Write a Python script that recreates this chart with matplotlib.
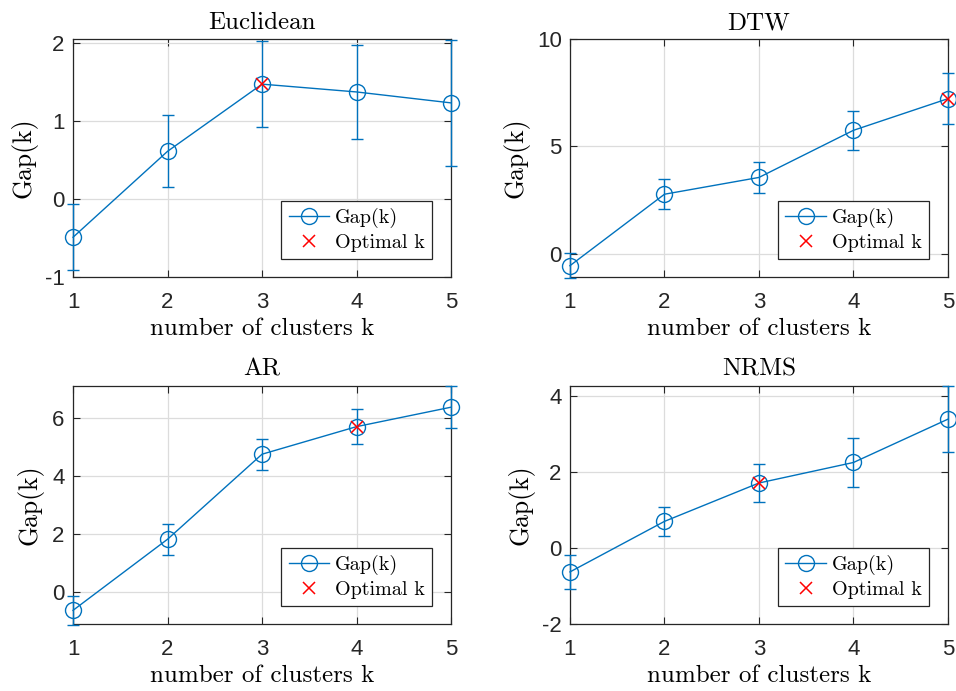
import numpy as np
import matplotlib
matplotlib.use("Agg")
import matplotlib.pyplot as plt

plt.rcParams["axes.unicode_minus"] = False

k = [1, 2, 3, 4, 5]

titles = ["Euclidean", "DTW", "AR", "NRMS"]

gap_euc = [-0.49, 0.61, 1.47, 1.37, 1.23]
err_euc = [0.42, 0.46, 0.555, 0.60, 0.81]
gap_dtw = [-0.54, 2.78, 3.56, 5.75, 7.22]
err_dtw = [0.57, 0.69, 0.74, 0.92, 1.20]
gap_ar = [-0.63, 1.82, 4.75, 5.70, 6.37]
err_ar = [0.49, 0.53, 0.53, 0.61, 0.73]
gap_nrms = [-0.63, 0.70, 1.71, 2.25, 3.39]
err_nrms = [0.44, 0.39, 0.50, 0.64, 0.87]

opt_k = [3, 5, 4, 3]

gaps = [gap_euc, gap_dtw, gap_ar, gap_nrms]
errs = [err_euc, err_dtw, err_ar, err_nrms]
ylims = [(-0.97, 2.05), (-1.07, 10), (-1.1, 7.11), (-2, 4.27)]
yticks = [[-1, 0, 1, 2], [0, 5, 10], [0, 2, 4, 6], [-2, 0, 2, 4]]

blue = "#0072BD"
serif = "cmr10"
sans = "Liberation Sans"

fig = plt.figure(figsize=(9.56, 6.91), dpi=100)

lefts = [0.0764, 0.5962, 0.0764, 0.5962]
bottoms = [0.599, 0.599, 0.097, 0.097]
# right edge of the rotated y label, in axes coords
ylab_x = [-0.095, -0.106, -0.079, -0.095]

for i in range(4):
    ax = fig.add_axes([lefts[i], bottoms[i], 0.3954, 0.3448])
    g = np.array(gaps[i])
    e = np.array(errs[i])
    eb = ax.errorbar(k, g, yerr=e, color=blue, lw=1.0, capsize=4.5, capthick=1.0,
                     marker="o", markersize=11.5, markerfacecolor="none",
                     markeredgewidth=1.0, zorder=3)
    for art in eb.lines[1] + eb.lines[2]:
        art.set_clip_on(False)
    eb.lines[0].set_clip_on(False)
    j = k.index(opt_k[i])
    ax.plot([opt_k[i]], [g[j]], "x", color="red", markersize=8, mew=1.1,
            zorder=4, clip_on=False)

    ax.set_xlim(1, 5)
    ax.set_ylim(*ylims[i])
    ax.set_xticks(k)
    ax.set_yticks(yticks[i])
    ax.grid(True, color="#dcdcdc", lw=0.9)
    ax.set_axisbelow(True)
    ax.tick_params(direction="in", length=5, width=0.8, top=True, right=True,
                   labelsize=16, colors="#262626")
    ax.tick_params(axis="x", pad=10.5)
    ax.tick_params(axis="y", pad=6)
    for lab in ax.get_xticklabels() + ax.get_yticklabels():
        lab.set_fontfamily(sans)
    for sp in ax.spines.values():
        sp.set_color("#262626")
        sp.set_linewidth(0.9)

    ax.set_title(titles[i], fontfamily=serif, fontsize=18, pad=7)
    ax.set_xlabel("number of clusters k", fontfamily=serif, fontsize=18,
                  labelpad=4)
    ax.set_ylabel("Gap(k)", fontfamily=serif, fontsize=18.5)
    ax.yaxis.set_label_coords(ylab_x[i], 0.5)

    h1, = ax.plot([], [], color=blue, lw=1.0, marker="o", markersize=11.5,
                  markerfacecolor="none", mew=1.0)
    h2, = ax.plot([], [], "x", color="red", markersize=8, mew=1.1)
    leg = ax.legend([h1, h2], ["Gap(k)", "Optimal k"], loc="lower right",
                    bbox_to_anchor=(0.949, 0.0756), fancybox=False,
                    framealpha=1, edgecolor="#262626",
                    prop={"family": serif, "size": 14.5}, handlelength=2.0,
                    borderpad=0.35, labelspacing=0.3, handletextpad=0.3,
                    borderaxespad=0)
    leg.get_frame().set_linewidth(0.9)

fig.savefig("out.png", dpi=100, facecolor="white")
